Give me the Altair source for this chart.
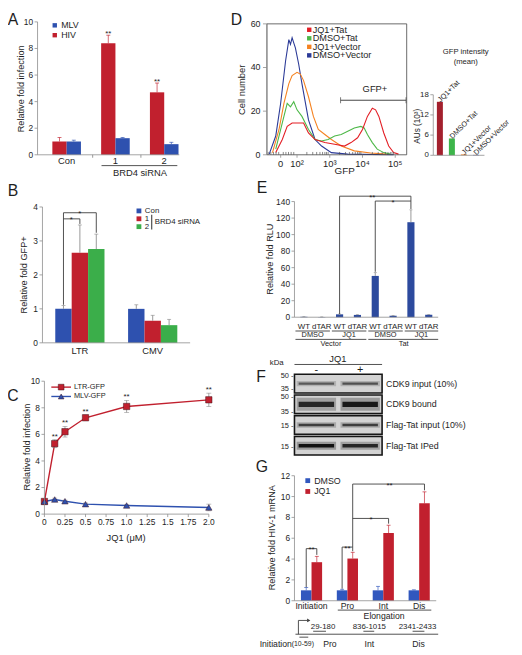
import altair as alt
import pandas as pd

FONT = "Liberation Sans"
W, H = 514, 647
AX = "#8c8c8c"
TXT = "#1e1e1e"
INK = "#3c3c3c"
ERR = "#8c8c8c"

RED = "#C1202E"
BLUE = "#2E51AF"
GREEN = "#3BAE4A"
E_BLUE = "#2C4A9E"


def px(v):
    """page pixel -> chart pixel (the page has an 8px margin)"""
    return v - 8


ONE = pd.DataFrame({"k": [0]})

# ======================= DATA =======================
# A
a_groups = ["Con", "1", "2"]
a_series = ["HIV", "MLV"]
a_hiv = [1.0, 8.4, 4.7]
a_hiv_err = [0.3, 0.6, 0.7]
a_mlv = [1.0, 1.25, 0.8]
a_mlv_err = [0.1, 0.05, 0.14]
a_hiv_sig = ["", "**", "**"]
a_yticks = [0, 2, 4, 6, 8, 10]

# B
b_groups = ["LTR", "CMV"]
b_series = ["Con", "1", "2"]
b_con = [1.0, 1.0]
b_con_err = [0.1, 0.12]
b_si1 = [2.65, 0.65]
b_si1_err = [0.82, 0.16]
b_si2 = [2.76, 0.52]
b_si2_err = [0.44, 0.17]
b_yticks = [0, 1, 2, 3, 4]

# C
c_series = ["LTR-GFP", "MLV-GFP"]
c_dose = [0, 0.125, 0.25, 0.5, 1.0, 2.0]
c_ltr = [0.95, 5.3, 6.2, 7.25, 8.1, 8.6]
c_ltr_err = [0.15, 0.3, 0.4, 0.2, 0.45, 0.5]
c_mlv = [0.95, 1.1, 0.97, 0.75, 0.65, 0.5]
c_mlv_err = [0.1, 0.1, 0.08, 0.08, 0.08, 0.25]
c_ltr_sig = ["", "**", "**", "**", "**", "**"]
c_xticks = [0, 0.25, 0.5, 0.75, 1.0, 1.25, 1.5, 1.75, 2.0]
c_xtick_labels = ["0", "0.25", "0.5", "0.75", "1.0", "1.25", "1.5", "1.75", "2.0"]
c_yticks = [0, 2, 4, 6, 8, 10]

# D  (x in decades of GFP on the logicle axis, y = cell number)
d_series = ["JQ1+Tat", "DMSO+Tat", "JQ1+Vector", "DMSO+Vector"]
d_colors = ["#E31E25", "#4DB848", "#F58220", "#2B3A97"]
d_inset_colors = ["#A3202D", "#3DB54A", "#F58220", "#2B3A97"]
d_dmsovec_x = [1.15, 1.35, 1.5, 1.65, 1.75, 1.8, 1.85, 1.9, 1.95, 2.05, 2.15, 2.35, 2.55, 2.75, 3.05, 3.55, 4.95]
d_dmsovec_y = [0.3, 8.6, 23.6, 43, 52.8, 50.6, 53.6, 51.3, 49, 41.6, 32.6, 16, 7, 4, 1, 0.3, 0]
d_jq1vec_x = [1.25, 1.45, 1.6, 1.75, 1.85, 2.0, 2.1, 2.2, 2.35, 2.5, 2.65, 2.85, 3.05, 3.35, 3.75, 4.25, 4.75]
d_jq1vec_y = [1, 11.6, 23.6, 32.6, 36.3, 37.8, 37, 34, 26.6, 17.6, 11.6, 9.3, 7, 4, 1.8, 0.8, 0.3]
d_dmsotat_x = [1.35, 1.55, 1.7, 1.8, 1.9, 2.0, 2.15, 2.35, 2.55, 2.75, 2.95, 3.15, 3.35, 3.55, 3.75,
               3.95, 4.05, 4.15, 4.3, 4.45, 4.65, 4.85]
d_dmsotat_y = [2.6, 14.6, 23.6, 22, 24.3, 20.6, 17.6, 11.6, 7, 6.3, 7, 8.6, 9.3, 10.8, 12.3,
               13, 12.3, 9.3, 5.6, 2.6, 1, 0.3]
d_jq1tat_x = [1.35, 1.55, 1.7, 1.85, 2.05, 2.2, 2.35, 2.55, 2.85, 3.15, 3.45, 3.65, 3.85, 4.0,
              4.15, 4.3, 4.4, 4.5, 4.65, 4.8, 4.95, 5.1]
d_jq1tat_y = [1, 7, 13, 14.6, 14.6, 14.6, 10, 7, 5.6, 4.8, 4, 5.6, 7.8, 11.6,
              17.6, 21.3, 20.6, 17.6, 10, 4, 1, 0.3]
d_xdomain = [1.08, 5.35]
d_xticks = [1.5, 2, 3, 4, 5]
d_xtick_labels = ["0", "10²", "10³", "10⁴", "10⁵"]
d_yticks = [0, 20, 40, 60]
d_minor = [1.12, 1.2, 1.28, 1.36, 1.44, 1.58, 1.66, 1.74, 1.82, 1.9,
           2.3, 2.48, 2.6, 2.7, 2.78, 2.85, 2.9, 2.95,
           3.3, 3.48, 3.6, 3.7, 3.78, 3.85, 3.9, 3.95,
           4.3, 4.48, 4.6, 4.7, 4.78, 4.85, 4.9, 4.95]
d_gate = [3.33, 5.33]
d_gate_count = 25
d_mean = [15.9, 5.0, 0.25, 0.12]
d_inset_yticks = [0, 6, 12, 18]

# E
e_plasmid = ["Vector", "Tat"]
e_drug = ["DMSO", "JQ1"]
e_reporter = ["WT", "dTAR"]
e_values = [0.5, 0.3, 3.5, 2.8, 50, 1.8, 115, 3.0]
e_err = [0.2, 0.1, 0.3, 0.3, 4, 0.3, 15, 0.3]
e_yticks = [0, 20, 40, 60, 80, 100, 120, 140]

# F
f_rows = ["CDK9 input (10%)", "CDK9 bound", "Flag-Tat input (10%)", "Flag-Tat IPed"]
f_lanes = ["-", "+"]
f_signal = [[0.55, 0.6], [0.85, 0.95], [0.7, 0.7], [1.0, 0.85]]
f_band_px = [2.2, 5.5, 2.4, 3.4]   # style: band thickness per row

# G
g_groups = ["Initiation", "Pro", "Int", "Dis"]
g_series = ["DMSO", "JQ1"]
g_dmso = [1.0, 1.0, 1.0, 1.0]
g_dmso_err = [0.27, 0.1, 0.38, 0.05]
g_jq1 = [3.7, 4.05, 6.5, 9.35]
g_jq1_err = [0.56, 0.6, 0.75, 1.1]
g_yticks = [0, 2, 4, 6, 8, 10, 12]


# ======================= HELPERS =======================
def label(text, x, y, size=8.5, align="center", baseline="middle", color=TXT, angle=None, lineHeight=None):
    kw = dict(text=text, fontSize=size, align=align, baseline=baseline, color=color, font=FONT)
    if angle is not None:
        kw["angle"] = angle
    if lineHeight is not None:
        kw["lineHeight"] = lineHeight
    return alt.Chart(ONE).mark_text(**kw).encode(x=alt.value(px(x)), y=alt.value(px(y)))


def seg(x1, y1, x2, y2, color=INK, width=0.9):
    return alt.Chart(ONE).mark_rule(color=color, strokeWidth=width).encode(
        x=alt.value(px(x1)), x2=alt.value(px(x2)), y=alt.value(px(y1)), y2=alt.value(px(y2)))


def fmt(v):
    return str(int(v)) if float(v).is_integer() else str(v)


def y_axis(field, at, dom, values, size=8.5, tl=3, pad=1.5):
    """axis line, ticks and tick labels drawn through the panel's own y scale"""
    df = pd.DataFrame({field: values, "lab": [fmt(v) for v in values]})
    return [
        alt.Chart(ONE).mark_rule(color=AX, strokeWidth=0.8).encode(
            x=alt.value(px(at)), y=alt.YDatum(datum=dom[0], axis=None), y2=alt.Y2Datum(datum=dom[1])),
        alt.Chart(df).mark_rule(color=AX, strokeWidth=0.8).encode(
            x=alt.value(px(at) - tl), x2=alt.value(px(at)), y=alt.Y(f"{field}:Q", axis=None)),
        alt.Chart(df).mark_text(align="right", baseline="middle", fontSize=size, color=TXT).encode(
            x=alt.value(px(at) - tl - pad), y=alt.Y(f"{field}:Q", axis=None), text="lab:N"),
    ]


def x_axis_q(field, at, dom, values, labels, label_y, size=8.5, tl=3, domain_line=True):
    df = pd.DataFrame({field: values, "lab": labels})
    out = []
    if domain_line:
        out.append(alt.Chart(ONE).mark_rule(color=AX, strokeWidth=0.8).encode(
            x=alt.XDatum(datum=dom[0], axis=None), x2=alt.X2Datum(datum=dom[1]), y=alt.value(px(at))))
    out.append(alt.Chart(df).mark_rule(color=AX, strokeWidth=0.8).encode(
        x=alt.X(f"{field}:Q", axis=None), y=alt.value(px(at)), y2=alt.value(px(at) + tl)))
    out.append(alt.Chart(df).mark_text(baseline="middle", fontSize=size, color=TXT).encode(
        x=alt.X(f"{field}:Q", axis=None), y=alt.value(px(label_y)), text="lab:N"))
    return out


def qscale(domain, rng):
    return alt.Scale(domain=domain, range=rng, nice=False, zero=False)


def bar_legend(x, y, size, rowpad, sym=22):
    return alt.Legend(orient="none", legendX=px(x), legendY=px(y), title=None,
                      symbolType="square", symbolSize=sym, symbolStrokeWidth=0,
                      labelFontSize=size, labelColor=TXT, labelOffset=2,
                      rowPadding=rowpad, padding=0, symbolOffset=0)


def grouped_panel(df, groups, series, cdom, crange, xr, xpad, yr, ydom,
                  y_at, y_vals, x_at, xlab_y, xlab_size,
                  legend=None, errcolor=None, cap=4, brackets=(), stars=()):
    x_main = alt.X("group:N", sort=groups, scale=alt.Scale(range=[px(xr[0]), px(xr[1])], **xpad), axis=None)
    x_p = alt.X("group:N", sort=groups, axis=None)
    xo = alt.XOffset("series:N", sort=series, scale=alt.Scale(paddingInner=0, paddingOuter=0))
    xo_p = alt.XOffset("series:N", sort=series)
    y_main = alt.Y("value:Q", scale=qscale(ydom, [px(yr[0]), px(yr[1])]), axis=None)
    col = alt.Color("series:N", scale=alt.Scale(domain=cdom, range=crange), legend=legend)
    col_p = alt.Color("series:N", legend=None)

    layers = [alt.Chart(df).mark_bar().encode(x=x_main, xOffset=xo, y=y_main, color=col)]
    eb = alt.Chart(df).transform_calculate(hi="datum.value + datum.err")
    if errcolor:
        rule = eb.mark_rule(strokeWidth=0.9, color=errcolor).encode(
            x=x_p, xOffset=xo_p, y=alt.Y("value:Q", axis=None), y2="hi:Q")
        capm = eb.mark_tick(orient="horizontal", size=cap, thickness=0.9, color=errcolor).encode(
            x=x_p, xOffset=xo_p, y=alt.Y("hi:Q", axis=None))
    else:
        rule = eb.mark_rule(strokeWidth=0.9, opacity=0.75).encode(
            x=x_p, xOffset=xo_p, y=alt.Y("value:Q", axis=None), y2="hi:Q", color=col_p)
        capm = eb.mark_tick(orient="horizontal", size=cap, thickness=0.9, opacity=0.75).encode(
            x=x_p, xOffset=xo_p, y=alt.Y("hi:Q", axis=None), color=col_p)
    layers += [rule, capm]
    if "sig" in df.columns:
        layers.append(eb.transform_filter("datum.sig != ''").mark_text(
            fontSize=8, baseline="alphabetic", dy=1, color=TXT).encode(
            x=x_p, xOffset=xo_p, y=alt.Y("hi:Q", axis=None), text="sig:N"))
    rows = []
    for i, path in enumerate(brackets):
        for k, (g, s, v) in enumerate(path):
            rows.append({"id": i, "k": k, "group": g, "series": s, "value": v})
    if rows:
        layers.append(alt.Chart(pd.DataFrame(rows)).mark_line(color=INK, strokeWidth=0.9).encode(
            x=x_p, xOffset=xo_p, y=alt.Y("value:Q", axis=None), detail="id:N", order="k:Q"))
    for (g, s, v, t, dx) in stars:
        rec = {"group": g, "value": v, "txt": t}
        enc = dict(x=x_p, y=alt.Y("value:Q", axis=None), text="txt:N")
        if s is not None:
            rec["series"] = s
            enc["xOffset"] = xo_p
        layers.append(alt.Chart(pd.DataFrame([rec])).mark_text(
            fontSize=8, baseline="alphabetic", dy=3.5, dx=dx, color=TXT).encode(**enc))
    # axes
    layers += y_axis("value", y_at, ydom, y_vals)
    layers.append(seg(xr[0], x_at, xr[1], x_at, color=AX, width=0.8))
    layers.append(alt.Chart(pd.DataFrame({"group": groups})).mark_text(
        fontSize=xlab_size, baseline="middle", color=TXT).encode(
        x=x_p, y=alt.value(px(xlab_y)), text="group:N"))
    return alt.layer(*layers)


# ======================= PANEL A =======================
dfA = pd.DataFrame({
    "group": a_groups * 2,
    "series": [a_series[0]] * 3 + [a_series[1]] * 3,
    "value": a_hiv + a_mlv,
    "err": a_hiv_err + a_mlv_err,
    "sig": a_hiv_sig + [""] * 3,
})
panelA = grouped_panel(
    dfA, a_groups, a_series, ["MLV", "HIV"], [BLUE, RED],
    [38, 182], dict(paddingInner=0.414, paddingOuter=0.16, align=0.95),
    [152, 17], [0, 10], 38, a_yticks, 152, 158.5, 9.5,
    legend=bar_legend(51, 16, 9, 0, sym=20), cap=4)

# ======================= PANEL B =======================
dfB = pd.DataFrame({
    "group": b_groups * 3,
    "series": [b_series[0]] * 2 + [b_series[1]] * 2 + [b_series[2]] * 2,
    "value": b_con + b_si1 + b_si2,
    "err": b_con_err + b_si1_err + b_si2_err,
})
b_brackets = [
    [("LTR", "Con", 1.12), ("LTR", "Con", 3.83), ("LTR", "2", 3.83), ("LTR", "2", 3.24)],
    [("LTR", "Con", 3.65), ("LTR", "1", 3.65), ("LTR", "1", 3.5)],
]
b_stars = [("LTR", "1", 3.83, "*", 0), ("LTR", "Con", 3.65, "*", 8)]
panelB = grouped_panel(
    dfB, b_groups, b_series, b_series, [BLUE, RED, GREEN],
    [43, 193], dict(paddingInner=0.324, paddingOuter=0.176),
    [343, 205], [0, 4], 43, b_yticks, 343, 351.5, 9.5,
    legend=bar_legend(137, 205, 8, 0, sym=24), errcolor=ERR, cap=4,
    brackets=b_brackets, stars=b_stars)

# ======================= PANEL C =======================
dfC = pd.DataFrame({
    "dose": c_dose + c_dose,
    "series": [c_series[0]] * len(c_dose) + [c_series[1]] * len(c_dose),
    "value": c_ltr + c_mlv,
    "err": c_ltr_err + c_mlv_err,
    "sig": c_ltr_sig + [""] * len(c_dose),
})
xC = alt.X("dose:Q", scale=qscale([0, 2], [px(45), px(212)]), axis=None)
xC_p = alt.X("dose:Q", axis=None)
yC = alt.Y("value:Q", scale=qscale([0, 10], [px(517), px(382)]), axis=None)
colC = alt.Color("series:N", scale=alt.Scale(domain=c_series, range=[RED, BLUE]), legend=None)
colC_p = alt.Color("series:N", legend=None)
shC = alt.Shape("series:N", scale=alt.Scale(domain=c_series, range=["square", "triangle-up"]), legend=None)
cb = alt.Chart(dfC).transform_calculate(hi="datum.value + datum.err", lo="datum.value - datum.err")
panelC = alt.layer(
    alt.Chart(dfC).mark_line(strokeWidth=1.4).encode(x=xC, y=yC, color=colC),
    cb.mark_rule(strokeWidth=0.8, color=ERR).encode(x=xC_p, y=alt.Y("lo:Q", axis=None), y2="hi:Q"),
    cb.mark_tick(orient="horizontal", size=5, thickness=0.8, color=ERR).encode(x=xC_p, y=alt.Y("hi:Q", axis=None)),
    cb.mark_tick(orient="horizontal", size=5, thickness=0.8, color=ERR).encode(x=xC_p, y=alt.Y("lo:Q", axis=None)),
    alt.Chart(dfC).mark_point(filled=True, size=42, opacity=1, stroke="#40121a", strokeWidth=0.5).encode(
        x=xC_p, y=alt.Y("value:Q", axis=None), color=colC_p, shape=shC),
    cb.transform_filter("datum.sig != ''").mark_text(fontSize=8, baseline="alphabetic", dy=-1, color=TXT).encode(
        x=xC_p, y=alt.Y("hi:Q", axis=None), text="sig:N"),
    *y_axis("value", 45, [0, 10], c_yticks),
    *x_axis_q("dose", 517, [0, 2], c_xticks, c_xtick_labels, 525.5, size=8.5),
)
dfCl = pd.DataFrame({"series": c_series})
ylc = alt.Y("series:N", sort=c_series, scale=alt.Scale(type="point", range=[px(388), px(397.5)], padding=0), axis=None)
ylc_p = alt.Y("series:N", sort=c_series, axis=None)
legC = alt.layer(
    alt.Chart(dfCl).mark_rule(strokeWidth=1.4).encode(
        x=alt.value(px(52)), x2=alt.value(px(72)), y=ylc,
        color=alt.Color("series:N", scale=alt.Scale(domain=c_series, range=[RED, BLUE]), legend=None)),
    alt.Chart(dfCl).mark_point(filled=True, size=34, opacity=1, stroke="#40121a", strokeWidth=0.5).encode(
        x=alt.value(px(62)), y=ylc_p, color=alt.Color("series:N", legend=None),
        shape=alt.Shape("series:N", scale=alt.Scale(domain=c_series, range=["square", "triangle-up"]), legend=None)),
    alt.Chart(dfCl).mark_text(align="left", fontSize=7.5, color=TXT).encode(
        x=alt.value(px(75)), y=ylc_p, text="series:N"),
)

# ======================= PANEL D =======================
d_hist = {
    "DMSO+Vector": (d_dmsovec_x, d_dmsovec_y),
    "JQ1+Vector": (d_jq1vec_x, d_jq1vec_y),
    "DMSO+Tat": (d_dmsotat_x, d_dmsotat_y),
    "JQ1+Tat": (d_jq1tat_x, d_jq1tat_y),
}
rowsD = []
for s in ["DMSO+Vector", "JQ1+Vector", "DMSO+Tat", "JQ1+Tat"]:
    xs, ys = d_hist[s]
    for a, b in zip(xs, ys):
        rowsD.append({"series": s, "decade": a, "count": b})
dfD = pd.DataFrame(rowsD)
xD = alt.X("decade:Q", scale=qscale(d_xdomain, [px(271), px(413)]), axis=None)
yD = alt.Y("count:Q", scale=qscale([0, 60], [px(152), px(19)]), axis=None)
panelD = alt.layer(
    alt.Chart(dfD).mark_line(strokeWidth=1.1).encode(
        x=xD, y=yD, color=alt.Color("series:N", scale=alt.Scale(domain=d_series, range=d_colors), legend=None)),
    alt.Chart(ONE).mark_rect(fillOpacity=0, stroke="#444444", strokeWidth=0.8).encode(
        x=alt.XDatum(datum=d_xdomain[0], axis=None), x2=alt.X2Datum(datum=d_xdomain[1]),
        y=alt.YDatum(datum=0, axis=None), y2=alt.Y2Datum(datum=60)),
    alt.Chart(pd.DataFrame({"decade": d_minor})).mark_rule(strokeWidth=0.7, color="#555555").encode(
        x=alt.X("decade:Q", axis=None), y=alt.YDatum(datum=0, axis=None), y2=alt.Y2Datum(datum=1.3)),
    alt.Chart(ONE).mark_rule(color="#444444", strokeWidth=1).encode(
        x=alt.XDatum(datum=d_gate[0], axis=None), x2=alt.X2Datum(datum=d_gate[1]),
        y=alt.YDatum(datum=d_gate_count, axis=None)),
    alt.Chart(pd.DataFrame({"decade": d_gate})).mark_tick(orient="vertical", size=6, thickness=1, color="#444444").encode(
        x=alt.X("decade:Q", axis=None), y=alt.YDatum(datum=d_gate_count, axis=None)),
    alt.Chart(ONE).mark_text(text="GFP+", fontSize=9.5, color=TXT).encode(
        x=alt.XDatum(datum=4.38, axis=None), y=alt.YDatum(datum=30, axis=None)),
    *y_axis("count", 271, [0, 60], d_yticks, size=9, tl=4, pad=2.5),
    *x_axis_q("decade", 152, d_xdomain, d_xticks, d_xtick_labels, 161, size=9.5, domain_line=False),
)
dfDl = pd.DataFrame({"series": d_series})
yld = alt.Y("series:N", sort=d_series, scale=alt.Scale(type="point", range=[px(25), px(51)], padding=0), axis=None)
yld_p = alt.Y("series:N", sort=d_series, axis=None)
legD = alt.layer(
    alt.Chart(dfDl).mark_square(size=20, opacity=1).encode(
        x=alt.value(px(314)), y=yld,
        color=alt.Color("series:N", scale=alt.Scale(domain=d_series, range=d_colors), legend=None)),
    alt.Chart(dfDl).mark_text(align="left", fontSize=9.3, color=TXT).encode(
        x=alt.value(px(317.5)), y=yld_p, text="series:N"),
)
dfDi = pd.DataFrame({"series": d_series, "mean": d_mean})
insetD = alt.layer(
    alt.Chart(dfDi).mark_bar().encode(
        x=alt.X("series:N", sort=d_series,
                scale=alt.Scale(range=[px(440), px(490)], paddingInner=0.5, paddingOuter=0.3), axis=None),
        y=alt.Y("mean:Q", scale=qscale([0, 18], [px(152.5), px(91)]), axis=None),
        color=alt.Color("series:N", scale=alt.Scale(domain=d_series, range=d_inset_colors), legend=None)),
    alt.Chart(dfDi).mark_text(angle=315, align="left", baseline="middle", fontSize=7.4, dx=0, dy=-1, color=TXT).encode(
        x=alt.X("series:N", sort=d_series, axis=None), y=alt.Y("mean:Q", axis=None), text="series:N"),
    *y_axis("mean", 440, [0, 18], d_inset_yticks, size=8),
)

# ======================= PANEL E =======================
e_cats = [f"{p}|{d}|{r}" for p in e_plasmid for d in e_drug for r in e_reporter]
e_labels = [r for p in e_plasmid for d in e_drug for r in e_reporter]
dfE = pd.DataFrame({"cat": e_cats, "value": e_values, "err": e_err})
xE = alt.X("cat:N", sort=e_cats,
           scale=alt.Scale(range=[px(299), px(445)], paddingInner=0.6, paddingOuter=0.33), axis=None)
xE_p = alt.X("cat:N", sort=e_cats, axis=None)
yE = alt.Y("value:Q", scale=qscale([0, 140], [px(317), px(199.5)]), axis=None)
ebE = alt.Chart(dfE).transform_calculate(hi="datum.value + datum.err")
e_brackets = [
    [(e_cats[2], 3.9), (e_cats[2], 146.5), (e_cats[6], 146.5), (e_cats[6], 131)],
    [(e_cats[4], 55), (e_cats[4], 140.6), (e_cats[6], 140.6)],
]
rowsEb = []
for i, path in enumerate(e_brackets):
    for k, (c, v) in enumerate(path):
        rowsEb.append({"id": i, "k": k, "cat": c, "value": v})
e_stars = [(e_cats[4], 146.5, "**", -3), (e_cats[5], 140.6, "*", 0)]
E_layers = [
    alt.Chart(dfE).mark_bar(color=E_BLUE).encode(x=xE, y=yE),
    ebE.mark_rule(color=ERR, strokeWidth=0.9).encode(x=xE_p, y=alt.Y("value:Q", axis=None), y2="hi:Q"),
    ebE.mark_tick(orient="horizontal", size=3, thickness=0.9, color=ERR).encode(x=xE_p, y=alt.Y("hi:Q", axis=None)),
    alt.Chart(pd.DataFrame(rowsEb)).mark_line(color=INK, strokeWidth=0.9).encode(
        x=xE_p, y=alt.Y("value:Q", axis=None), detail="id:N", order="k:Q"),
    *y_axis("value", 299, [0, 140], e_yticks),
    seg(299, 317, 445, 317, color=AX, width=0.8),
    alt.Chart(pd.DataFrame({"cat": e_cats, "lab": e_labels})).mark_text(
        fontSize=8, baseline="middle", color=TXT).encode(x=xE_p, y=alt.value(px(327)), text="lab:N"),
]
for c, v, t, dx in e_stars:
    E_layers.append(alt.Chart(pd.DataFrame([{"cat": c, "value": v, "txt": t}])).mark_text(
        fontSize=8, baseline="alphabetic", dy=3.5, dx=dx, color=TXT).encode(
        x=xE_p, y=alt.Y("value:Q", axis=None), text="txt:N"))
panelE = alt.layer(*E_layers)

# ======================= PANEL F =======================
dfF = pd.DataFrame([{"row": r, "lane": l, "signal": f_signal[i][j]}
                    for i, r in enumerate(f_rows) for j, l in enumerate(f_lanes)])
yF = alt.Y("row:N", sort=f_rows,
           scale=alt.Scale(range=[px(375), px(457)], paddingInner=0.1, paddingOuter=0), axis=None)
yF_p = alt.Y("row:N", sort=f_rows, axis=None)
xF = alt.X("lane:N", sort=f_lanes,
           scale=alt.Scale(range=[px(299), px(388)], paddingInner=0, paddingOuter=0), axis=None)
xF_p = alt.X("lane:N", sort=f_lanes, axis=None)
F_layers = [alt.Chart(pd.DataFrame({"row": f_rows})).mark_rect(
    fill="#d3d3d3", stroke="#151515", strokeWidth=1.6).encode(
    y=yF, x=alt.value(px(299)), x2=alt.value(px(388)))]
for i, r in enumerate(f_rows):
    base = alt.Chart(dfF).transform_filter(alt.datum.row == r)
    t = f_band_px[i]
    F_layers.append(base.transform_calculate(o="datum.signal * 0.35").mark_tick(
        orient="horizontal", size=40, thickness=t * 2.4, color="#2a2a2a").encode(
        x=xF if i == 0 else xF_p, y=yF_p, opacity=alt.Opacity("o:Q", scale=None, legend=None)))
    F_layers.append(base.mark_tick(orient="horizontal", size=36, thickness=t, color="#111111").encode(
        x=xF_p, y=yF_p, opacity=alt.Opacity("signal:Q", scale=None, legend=None)))
F_layers.append(alt.Chart(pd.DataFrame({"row": f_rows})).mark_text(
    align="left", baseline="middle", fontSize=9, color=TXT).encode(
    x=alt.value(px(392)), y=yF_p, text="row:N"))
F_layers.append(alt.Chart(pd.DataFrame({"lane": f_lanes})).mark_text(
    baseline="middle", fontSize=11, color=TXT).encode(
    x=xF_p, y=alt.value(px(370.5)), text="lane:N"))
panelF = alt.layer(*F_layers)

# ======================= PANEL G =======================
dfG = pd.DataFrame({
    "group": g_groups * 2,
    "series": [g_series[0]] * 4 + [g_series[1]] * 4,
    "value": g_dmso + g_jq1,
    "err": g_dmso_err + g_jq1_err,
})
g_brackets = [
    [("Initiation", "DMSO", 1.3), ("Initiation", "DMSO", 5.0), ("Initiation", "JQ1", 5.0), ("Initiation", "JQ1", 4.4)],
    [("Pro", "DMSO", 1.15), ("Pro", "DMSO", 5.15), ("Pro", "JQ1", 5.15), ("Pro", "JQ1", 4.75)],
    [("Pro", "JQ1", 5.15), ("Pro", "JQ1", 11.2), ("Dis", "JQ1", 11.2), ("Dis", "JQ1", 10.6)],
    [("Pro", "JQ1", 7.9), ("Int", "JQ1", 7.9), ("Int", "JQ1", 7.4)],
]
g_stars = [("Initiation", None, 5.0, "**", 0), ("Pro", None, 5.15, "**", 0),
           ("Int", "DMSO", 7.9, "*", -7), ("Int", "JQ1", 11.2, "**", 1)]
panelG = grouped_panel(
    dfG, g_groups, g_series, g_series, ["#3157BE", RED],
    [299, 443], dict(paddingInner=0.41, paddingOuter=0.18),
    [605, 478], [0, 12], 299, g_yticks, 605, 610.5, 8.8,
    legend=bar_legend(308, 478.5, 9, 1, sym=24), cap=4,
    brackets=g_brackets, stars=g_stars)

# ======================= ANNOTATIONS =======================
notes = [
    # panel letters
    label("A", 13, 15, size=16), label("B", 13, 189, size=16), label("C", 13, 397, size=16),
    label("D", 240, 15, size=16), label("E", 266, 186, size=16), label("F", 265, 378, size=16),
    label("G", 266, 469, size=16),
    # axis titles
    label("Relative fold infection", 21, 85, size=9.3, angle=270),
    label("Relative fold GFP+", 24, 274, size=9.3, angle=270),
    label("Relative fold infection", 27, 449, size=9.3, angle=270),
    label("JQ1 (μM)", 128, 541, size=9.5),
    label("Cell number", 246, 86, size=9.5, angle=270),
    label("GFP", 350, 169, size=10),
    label("AUs (10³)", 425, 123, size=8.3, angle=270),
    label("Relative fold RLU", 274, 258, size=9.3, angle=270),
    label("Relative fold HIV-1 mRNA", 276, 541, size=9.3, angle=270),
    # A
    seg(94, 152, 94, 155, color=AX), seg(143, 152, 143, 155, color=AX),
    seg(103, 163, 180, 163), label("BRD4 siRNA", 142, 171, size=9.5),
    # B legend bracket
    seg(154, 213, 154, 228, width=1.1), label("BRD4 siRNA", 157, 220.5, size=8, align="left"),
    # D inset title and baseline
    label(["GFP intensity", "(mean)"], 473, 43.5, size=7.8, baseline="top", lineHeight=10),
    seg(440, 152.5, 492, 152.5, color=AX, width=0.8),
    # E group labels
    seg(300, 331, 335, 331), seg(337, 331, 372, 331), seg(374, 331, 409, 331), seg(411, 331, 445, 331),
    label("DMSO", 317.5, 335.5, size=7.5), label("JQ1", 354.5, 335.5, size=7.5),
    label("DMSO", 391.5, 335.5, size=7.5), label("JQ1", 428, 335.5, size=7.5),
    seg(300, 339.5, 372, 339.5), seg(374, 339.5, 445, 339.5),
    label("Vector", 336, 344.5, size=7.5), label("Tat", 410, 344.5, size=7.5),
    # F header and markers
    label("kDa", 281, 364, size=8), label("JQ1", 343, 359, size=9.5), seg(299, 365, 388, 365),
    label("50 -", 298, 377, size=7.5, align="right"), label("35 -", 298, 390, size=7.5, align="right"),
    label("50 -", 298, 398.5, size=7.5, align="right"), label("35 -", 298, 413, size=7.5, align="right"),
    label("15 -", 298, 427.5, size=7.5, align="right"), label("15 -", 298, 448.5, size=7.5, align="right"),
    # G labels and schematic
    label("Elongation", 390, 620.5, size=8.8), seg(343, 614.5, 438, 614.5),
    seg(300, 639, 445, 639), seg(303, 625, 303, 639), seg(303, 625, 312, 625),
    label("29-180", 328, 632, size=8), seg(318, 636, 331, 636),
    label("836-1015", 375, 632, size=8), seg(369, 636, 380, 636),
    label("2341-2433", 424, 632, size=8), seg(419, 636, 431, 636),
    label("Initiation", 280, 648.5, size=8.8), label("(10-59)", 307.5, 649, size=7),
    seg(304, 642, 313, 642),
    label("Pro", 335, 648.5, size=8.8), label("Int", 375, 648.5, size=8.8), label("Dis", 425, 648.5, size=8.8),
    alt.Chart(ONE).mark_point(shape="triangle-right", filled=True, size=14, color=INK, opacity=1).encode(
        x=alt.value(px(313.5)), y=alt.value(px(625))),
]

chart = alt.layer(
    panelA, panelB, panelC, legC, panelD, legD, insetD, panelE, panelF, panelG, *notes
).resolve_scale(
    x="independent", y="independent", color="independent", xOffset="independent",
    shape="independent", opacity="independent"
).resolve_legend(
    color="independent", shape="independent"
).properties(
    width=W, height=H, autosize=alt.AutoSizeParams(type="none"), padding=0
).configure_view(stroke=None).configure_axis(
    grid=False, labelFont=FONT, titleFont=FONT
).configure_legend(labelFont=FONT, titleFont=FONT).configure_text(font=FONT)

chart.save("out.html", embed_options={"renderer": "svg", "actions": False})
